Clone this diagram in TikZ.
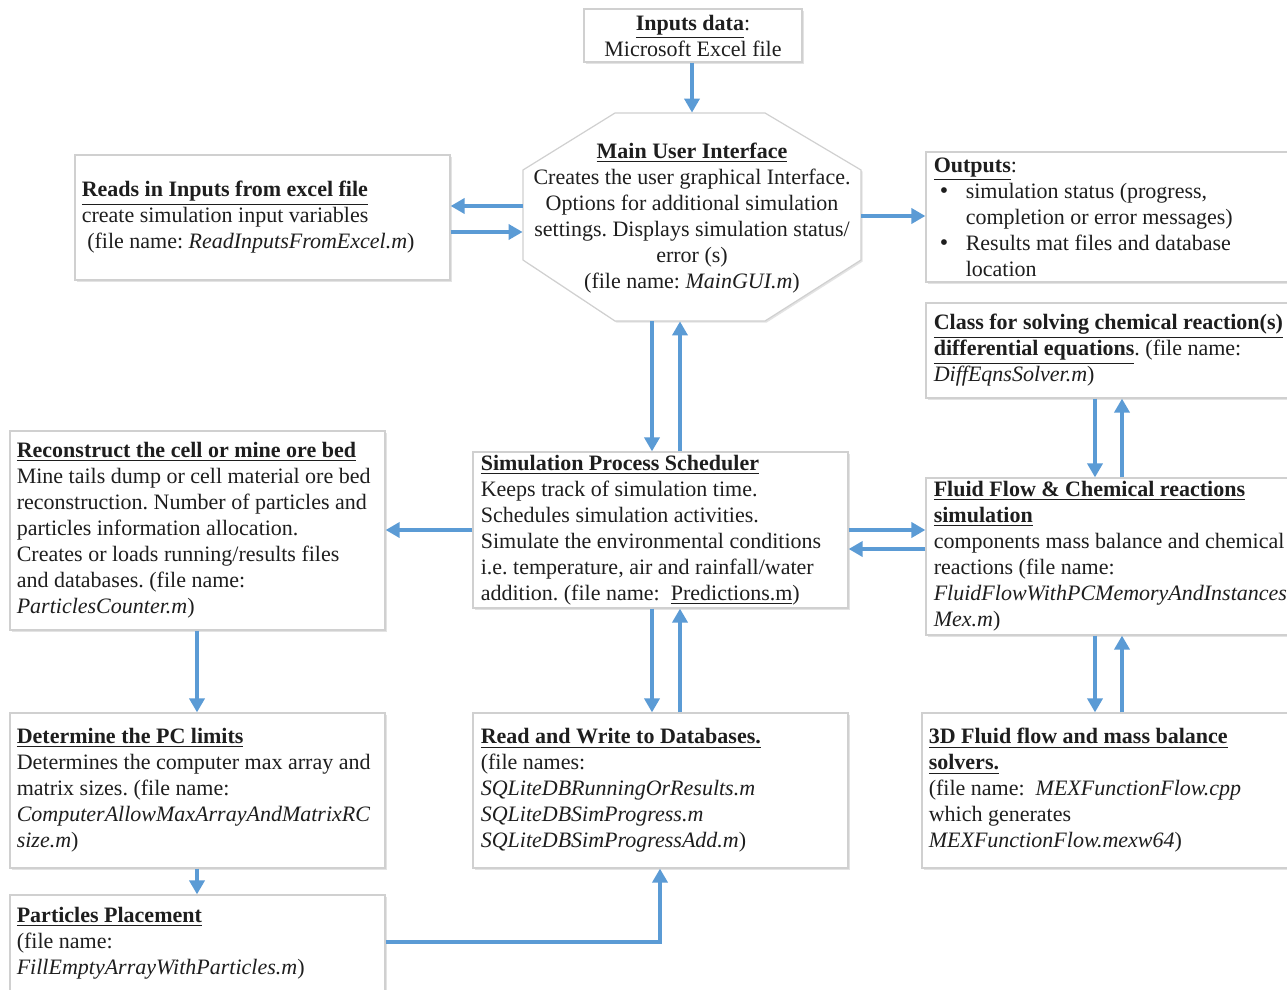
\documentclass[tikz,border=0pt]{standalone}
\usepackage{fontspec}
\setmainfont{Liberation Serif}
\usetikzlibrary{arrows.meta,shadows,fit}
\definecolor{arrowblue}{HTML}{5B9BD5}
\definecolor{boxgray}{HTML}{D0D0D0}
\definecolor{txtcol}{HTML}{1E1E1E}
\tikzset{
  box/.style={draw=boxgray, fill=white, line width=0.6pt, inner sep=0pt,
    drop shadow={shadow xshift=0.8pt, shadow yshift=-0.8pt, opacity=0.18, fill=black!60}},
  txt/.style={inner sep=0pt, align=left, anchor=west, text=txtcol,
    font=\fontsize{11}{13}\selectfont},
  ctxt/.style={inner sep=0pt, align=center, text=txtcol,
    font=\fontsize{11}{13}\selectfont},
  arr/.style={draw=arrowblue, line width=2pt, -{Triangle[length=7pt,width=7.5pt]}},
}
\newcommand{\hd}[1]{\underline{\textbf{#1}}}
\newcommand{\bul}{\hspace*{3pt}\makebox[13pt][l]{\large\textbullet}}
\frenchspacing
\begin{document}
\begin{tikzpicture}[x=0.5pt,y=-0.5pt]
\clip (0,0) rectangle (1287,990);
\fill[white] (0,0) rectangle (1287,990);

% boxes
\node[box, fit={(584,9) (802,62)}] (inp) {};
\node[box, fit={(75,155) (450,280)}] (reads) {};
\node[box, fit={(926,152) (1310,282)}] (outs) {};
\node[box, fit={(926,303) (1310,398)}] (cls) {};
\node[box, fit={(10,431) (385,630)}] (recon) {};
\node[box, fit={(473,452) (848,608)}] (sched) {};
\node[box, fit={(926,478) (1310,635)}] (fluid) {};
\node[box, fit={(10,713) (385,868)}] (pc) {};
\node[box, fit={(473,713) (848,868)}] (rw) {};
\node[box, fit={(922,713) (1310,868)}] (fl3d) {};
\node[box, fit={(10,895) (385,991)}] (place) {};

% octagon main
\node[inner sep=0pt, fit={(523,113) (861,321)}] (main) {};
\path[box] (615,113) -- (765,113) -- (861,170) -- (861,260) -- (765,321)
  -- (615,321) -- (523,260) -- (523,170) -- cycle;

% texts
\node[ctxt] (inp-t) at (inp.center) {\hd{Inputs data}:\\Microsoft Excel file};
\node[ctxt] (main-t) at ([yshift=-0.5pt]main.center) {\hd{Main User Interface}\\
  Creates the user graphical Interface.\\
  Options for additional simulation\\
  settings. Displays simulation status/\\
  error (s)\\
  (file name: \textit{MainGUI.m})};
\node[txt] (reads-t) at ([xshift=3.5pt]reads.west) {\hd{Reads in Inputs from excel file}\\
  create simulation input variables\\
  \ (file name: \textit{ReadInputsFromExcel.m})};
\node[txt] (outs-t) at ([xshift=4pt]outs.west) {\hd{Outputs}:\\
  \bul simulation status (progress,\\
  \hspace*{16pt}completion or error messages)\\
  \bul Results mat files and database\\
  \hspace*{16pt}location};
\node[txt] (cls-t) at ([xshift=4pt]cls.west) {\hd{Class for solving chemical reaction(s)}\\
  \hd{differential equations}. (file name:\\
  \textit{DiffEqnsSolver.m})};
\node[txt] (recon-t) at ([xshift=3.5pt]recon.west) {\hd{Reconstruct the cell or mine ore bed}\\
  Mine tails dump or cell material ore bed\\
  reconstruction. Number of particles and\\
  particles information allocation.\\
  Creates or loads running/results files\\
  and databases. (file name:\\
  \textit{ParticlesCounter.m})};
\node[txt] (sched-t) at ([xshift=4pt]sched.west) {\hd{Simulation Process Scheduler}\\
  Keeps track of simulation time.\\
  Schedules simulation activities.\\
  Simulate the environmental conditions\\
  i.e. temperature, air and rainfall/water\\
  addition. (file name:\ \ \underline{Predictions.m})};
\node[txt] (fluid-t) at ([xshift=4pt]fluid.west) {\hd{Fluid Flow \& Chemical reactions}\\
  \hd{simulation}\\
  components mass balance and chemical\\
  reactions (file name:\\
  \textit{FluidFlowWithPCMemoryAndInstances}\\
  \textit{Mex.m})};
\node[txt] (pc-t) at ([xshift=3.5pt]pc.west) {\hd{Determine the PC limits}\\
  Determines the computer max array and\\
  matrix sizes. (file name:\\
  \textit{ComputerAllowMaxArrayAndMatrixRC}\\
  \textit{size.m})};
\node[txt] (rw-t) at ([xshift=4pt]rw.west) {\hd{Read and Write to Databases.}\\
  (file names:\\
  \textit{SQLiteDBRunningOrResults.m}\\
  \textit{SQLiteDBSimProgress.m}\\
  \textit{SQLiteDBSimProgressAdd.m})};
\node[txt] (fl3d-t) at ([xshift=3.5pt]fl3d.west) {\hd{3D Fluid flow and mass balance}\\
  \hd{solvers.}\\
  (file name:\ \ \textit{MEXFunctionFlow.cpp}\\
  which generates\\
  \textit{MEXFunctionFlow.mexw64})};
\node[txt] (place-t) at ([xshift=3.5pt]place.west) {\hd{Particles Placement}\\
  (file name:\\
  \textit{FillEmptyArrayWithParticles.m})};

% connectors
\draw[arr] (inp.south -| 692,0) -- (main.north -| 692,0);
\draw[arr] (main.west |- 0,206) -- (reads.east |- 0,206);
\draw[arr] (reads.east |- 0,232) -- (main.west |- 0,232);
\draw[arr] (main.east |- 0,216) -- (outs.west |- 0,216);
\draw[arr] (main.south -| 652,0) -- (sched.north -| 652,0);
\draw[arr] (sched.north -| 680,0) -- (main.south -| 680,0);
\draw[arr] (sched.west |- 0,530) -- (recon.east |- 0,530);
\draw[arr] (sched.east |- 0,530) -- (fluid.west |- 0,530);
\draw[arr] (fluid.west |- 0,549) -- (sched.east |- 0,549);
\draw[arr] (cls.south -| 1095,0) -- (fluid.north -| 1095,0);
\draw[arr] (fluid.north -| 1122,0) -- (cls.south -| 1122,0);
\draw[arr] (fluid.south -| 1095,0) -- (fl3d.north -| 1095,0);
\draw[arr] (fl3d.north -| 1122,0) -- (fluid.south -| 1122,0);
\draw[arr] (sched.south -| 652,0) -- (rw.north -| 652,0);
\draw[arr] (rw.north -| 680,0) -- (sched.south -| 680,0);
\draw[arr] (recon.south -| 197,0) -- (pc.north -| 197,0);
\draw[arr] (pc.south -| 197,0) -- (place.north -| 197,0);
\draw[arr] (place.east |- 0,942) -| (rw.south -| 660,0);
\end{tikzpicture}
\end{document}
